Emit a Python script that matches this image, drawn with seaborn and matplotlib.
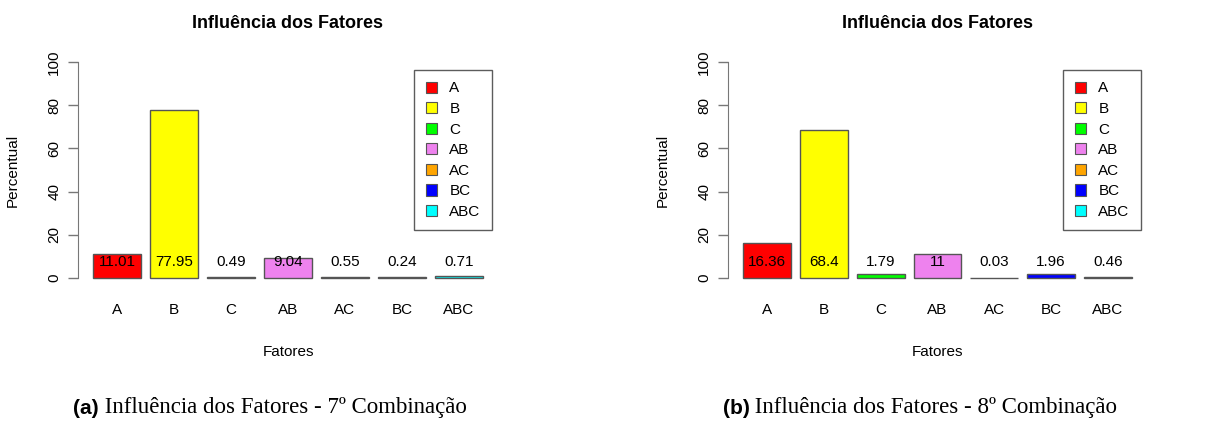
import matplotlib
matplotlib.use("Agg")
import matplotlib.pyplot as plt
import matplotlib.patches as mpatches
import seaborn as sns
import pandas as pd

# ===== DATA =====
fatores = ["A", "B", "C", "AB", "AC", "BC", "ABC"]
cores = ["#FF0000", "#FFFF00", "#00FF00", "#EE82EE", "#FFA500", "#0000FF", "#00FFFF"]
perc_7 = [11.01, 77.95, 0.49, 9.04, 0.55, 0.24, 0.71]
perc_8 = [16.36, 68.4, 1.79, 11, 0.03, 1.96, 0.46]
rotulos_7 = ["11.01", "77.95", "0.49", "9.04", "0.55", "0.24", "0.71"]
rotulos_8 = ["16.36", "68.4", "1.79", "11", "0.03", "1.96", "0.46"]
legendas = ["(a)", "(b)"]
textos = [" Influência dos Fatores - 7º Combinação", " Influência dos Fatores - 8º Combinação"]

W, H = 1225, 421
sns.set_style("white")
plt.rcParams["font.family"] = ["Liberation Sans", "DejaVu Sans"]
plt.rcParams["text.color"] = "black"
plt.rcParams["axes.labelcolor"] = "black"
plt.rcParams["xtick.color"] = "black"
plt.rcParams["ytick.color"] = "black"

fig = plt.figure(figsize=(W / 100, H / 100), dpi=100)


def px(x0, y_top, x1, y_bot):
    # pixel box -> figure coords
    return [x0 / W, 1 - y_bot / H, (x1 - x0) / W, (y_bot - y_top) / H]


def painel(rect, valores, rotulos, legend_px):
    ax = fig.add_axes(rect)
    df = pd.DataFrame({"fator": fatores, "valor": valores})
    sns.barplot(data=df, x="fator", y="valor", hue="fator", palette=cores,
                legend=False, width=0.84, saturation=1, edgecolor="#555555",
                linewidth=1.0, ax=ax)
    ax.set_xlim(-0.69, 6.69)
    ax.set_ylim(-4, 104)
    for s in ["top", "right", "bottom"]:
        ax.spines[s].set_visible(False)
    ax.spines["left"].set_bounds(0, 100)
    ax.spines["left"].set_color("#777777")
    ax.set_yticks([0, 20, 40, 60, 80, 100])
    ax.tick_params(axis="y", which="both", left=True, length=7, width=1,
                   color="#777777", labelsize=11, pad=5, labelrotation=90)
    for lab in ax.get_yticklabels():
        lab.set_va("center")
    ax.tick_params(axis="x", length=0, labelsize=11, pad=12)
    for i, r in enumerate(rotulos):
        ax.text(i, 7.5, r, ha="center", va="center", fontsize=11, color="black")
    ax.set_title("Influência dos Fatores", fontsize=13, fontweight="bold", pad=18)
    ax.set_xlabel("Fatores", fontsize=11, labelpad=20)
    ax.set_ylabel("Percentual", fontsize=11, labelpad=20)
    handles = [mpatches.Patch(facecolor=c, edgecolor="#555555", linewidth=0.8, label=f)
               for f, c in zip(fatores, cores)]
    lx, ly = legend_px
    leg = ax.legend(handles=handles, loc="upper right",
                    bbox_to_anchor=(lx / W, 1 - ly / H), bbox_transform=fig.transFigure,
                    borderaxespad=0, frameon=True, fancybox=False, fontsize=11,
                    handlelength=0.75, handleheight=0.75, handletextpad=0.8,
                    labelspacing=0.43, borderpad=0.75)
    leg.get_frame().set_edgecolor("#333333")
    leg.get_frame().set_linewidth(1.0)
    return ax


painel(px(78, 53.4, 498, 286.6), perc_7, rotulos_7, (492, 70))
painel(px(728, 53.4, 1147, 286.6), perc_8, rotulos_8, (1141, 70))

# legendas das subfiguras
for xc, a, t in [(270, legendas[0], textos[0]), (920, legendas[1], textos[1])]:
    ta = fig.text(0, 0, a, fontsize=15, fontweight="bold", family="Liberation Sans")
    tb = fig.text(0, 0, t, fontsize=16.5, family="Liberation Serif")
    fig.canvas.draw()
    r = fig.canvas.get_renderer()
    wa = ta.get_window_extent(r).width
    wb = tb.get_window_extent(r).width
    x0 = xc - (wa + wb) / 2
    ta.set_position((x0 / W, 1 - 408 / H))
    tb.set_position(((x0 + wa) / W, 1 - 408 / H))
    ta.set_va("center")
    tb.set_va("center")

fig.savefig("out.png", dpi=100)
